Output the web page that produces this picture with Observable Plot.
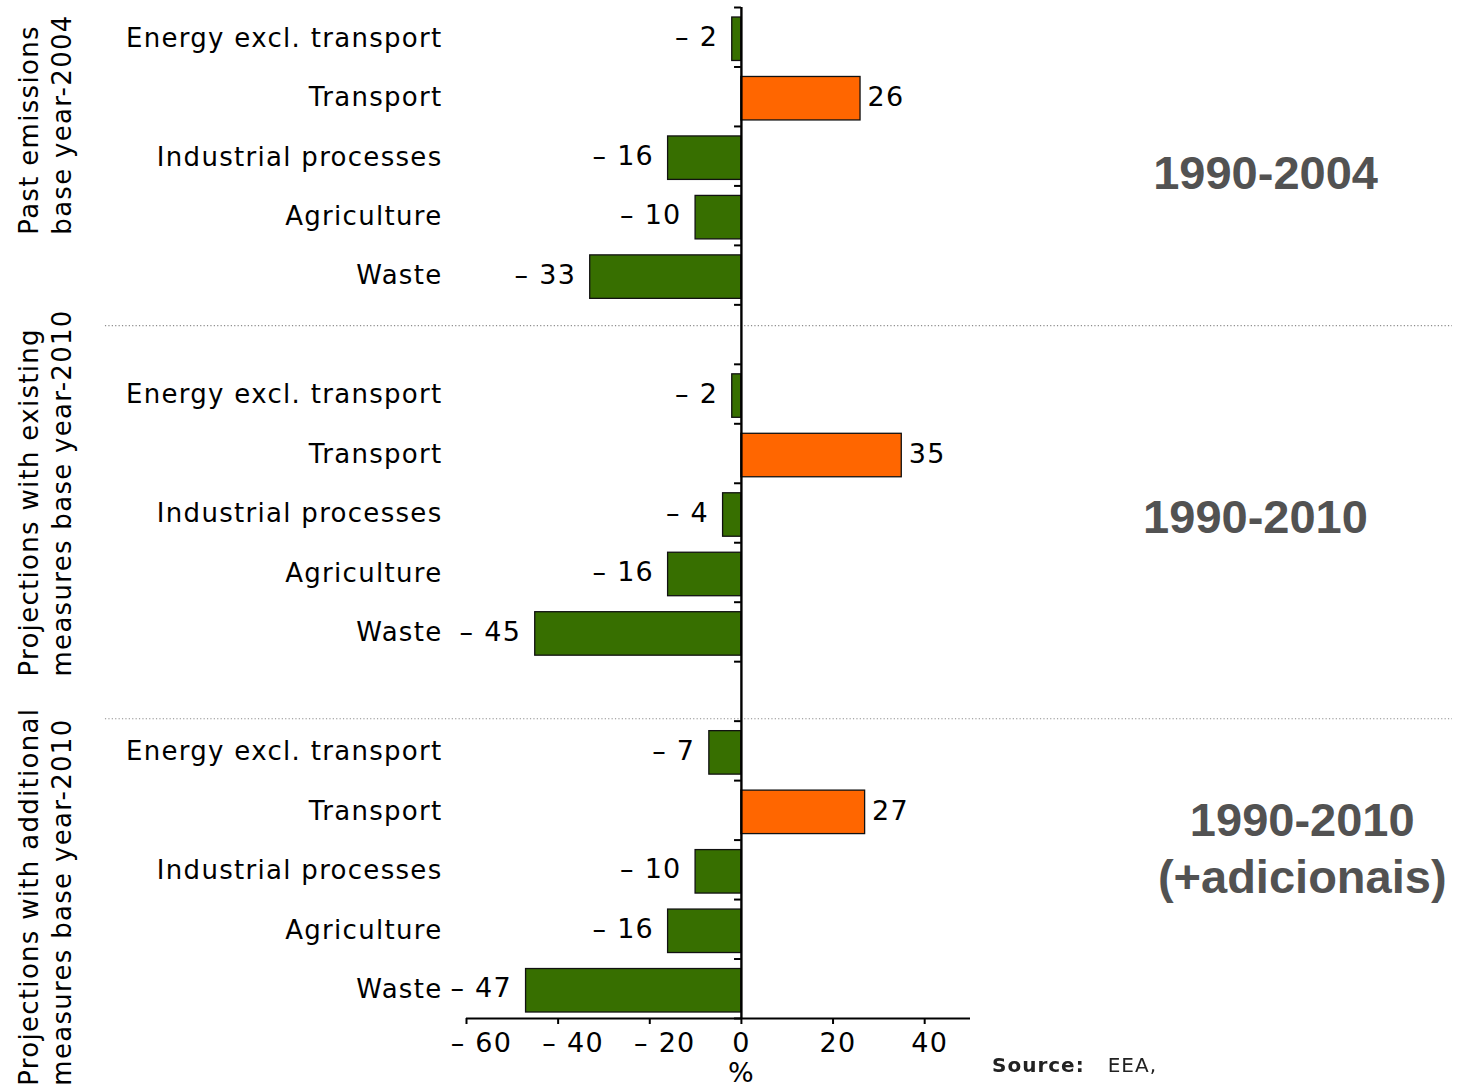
<!DOCTYPE html>
<html>
<head>
<meta charset="utf-8">
<script src="https://cdn.jsdelivr.net/npm/d3@7"></script>
<script src="https://cdn.jsdelivr.net/npm/@observablehq/plot@0.6"></script>
<style>
  html, body { margin: 0; padding: 0; background: #fff; }
  #wrap { position: relative; width: 1458px; height: 1090px; overflow: hidden; }
  #wrap svg { display: block; }
  #chart svg text { letter-spacing: 1.3px; }
  #chart svg g[font-weight="bold"] text { letter-spacing: 0; }
  #source {
    position: absolute; left: 992px; top: 1053px;
    font-family: "DejaVu Sans", Verdana, sans-serif; font-size: 20px; color: #222;
    letter-spacing: 1px; filter: blur(0.6px); white-space: nowrap;
  }
  #source b { margin-right: 23px; }
</style>
</head>
<body>
<div id="wrap">
  <div id="chart"></div>
  <div id="source"></div>
</div>
<script>
// Sectors and change in greenhouse gas emissions (%), per scenario
const sectors = ["Energy excl. transport", "Transport", "Industrial processes", "Agriculture", "Waste"];
const past2004 = [-2, 26, -16, -10, -33];
const existing2010 = [-2, 35, -4, -16, -45];
const additional2010 = [-7, 27, -10, -16, -47];

const scenarioNames = [
  ["Past emissions", "base year-2004"],
  ["Projections with existing", "measures base year-2010"],
  ["Projections with additional", "measures base year-2010"]
];
const periods = ["1990-2004", "1990-2010", "1990-2010\n(+adicionais)"];
const xTicks = [-60, -40, -20, 0, 20, 40];
const xLabel = "%";
const sourceTitle = "Source:";
const sourceName = "EEA,";

// Each scenario occupies five rows, with one empty row between scenarios
const series = [past2004, existing2010, additional2010];
const rowsPerGroup = sectors.length + 1;
const totalRows = series.length * rowsPerGroup - 1;
const rows = series.flatMap((values, g) =>
  values.map((value, i) => ({group: g, sector: sectors[i], value, row: g * rowsPerGroup + i}))
);
const rowEdges = series.flatMap((_, g) =>
  d3.range(sectors.length + 1).map((k) => g * rowsPerGroup + k)
);

// Annotation layout, in scale units (x: %, y: rows)
const separatorRows = [5.35, 11.96];
const separatorSpan = [-138.8, 155.2];
const scenarioLabelRows = [3.82, 11.25, 18.13];
const periodAt = [[114.4, 2.74], [112.2, 8.53], [122.4, 14.11]];

const green = "#376f00";
const orange = "#ff6600";
const font = "DejaVu Sans, Verdana, sans-serif";
const fmt = (v) => (v < 0 ? "\u2013 " + Math.abs(v) : String(v));
const tickShift = (v) => (v < 0 ? 15 : v > 0 ? 5 : 0);

const chart = Plot.plot({
  width: 1458,
  height: 1090,
  marginLeft: 466,
  marginRight: 488,
  marginTop: 7,
  marginBottom: 72,
  style: {fontFamily: font, background: "#fff", overflow: "visible"},
  x: {domain: [-60, 50], axis: null},
  y: {domain: [0, totalRows], reverse: true, axis: null},
  marks: [
    // dotted separators between scenarios
    Plot.ruleY(separatorRows, {
      x1: separatorSpan[0], x2: separatorSpan[1],
      stroke: "#8c8c8c", strokeWidth: 1.2, strokeDasharray: "1.2,2.2"
    }),
    // bars
    Plot.rectX(rows, {
      x1: () => 0, x2: "value",
      y1: "row", y2: (d) => d.row + 1,
      insetTop: 10, insetBottom: 6,
      fill: (d) => (d.sector === "Transport" ? orange : green),
      stroke: "#111", strokeWidth: 1.3
    }),
    // zero axis with short ticks between the rows
    Plot.ruleX([0], {stroke: "#000", strokeWidth: 2.4}),
    Plot.ruleY(rowEdges, {x1: -1.5, x2: 0, stroke: "#000", strokeWidth: 2}),
    // x axis
    Plot.ruleY([totalRows], {stroke: "#000", strokeWidth: 2.2}),
    Plot.axisX(xTicks, {tickSize: 6, strokeWidth: 2, tickFormat: () => "", label: null}),
    ...xTicks.map((t) =>
      Plot.text([t], {
        x: (d) => d, y: () => totalRows, text: fmt, dy: 25, dx: tickShift(t),
        fontSize: 27, fill: "#000", lineAnchor: "middle"
      })
    ),
    Plot.text([xLabel], {
      x: () => 0, y: () => totalRows, text: (d) => d, dy: 55,
      fontSize: 27, fill: "#000", lineAnchor: "middle"
    }),
    // sector names
    Plot.text(rows, {
      y: (d) => d.row + 0.5, text: "sector", frameAnchor: "left",
      textAnchor: "end", dx: -24, dy: 1, fontSize: 26, fill: "#000"
    }),
    // value labels
    Plot.text(rows.filter((d) => d.value < 0), {
      x: "value", y: (d) => d.row + 0.5, text: (d) => fmt(d.value),
      textAnchor: "end", dx: -14, dy: 0, fontSize: 27, fill: "#000"
    }),
    Plot.text(rows.filter((d) => d.value >= 0), {
      x: "value", y: (d) => d.row + 0.5, text: (d) => fmt(d.value),
      textAnchor: "start", dx: 7, dy: 1, fontSize: 27, fill: "#000"
    }),
    // scenario names, rotated on the left
    Plot.text(scenarioNames, {
      y: (d, i) => scenarioLabelRows[i], text: (d) => d.join("\n"),
      frameAnchor: "left", dx: -423, rotate: -90, textAnchor: "start",
      lineAnchor: "middle", lineHeight: 1.27, fontSize: 26, fill: "#000"
    }),
    // period labels on the right
    Plot.text(periods, {
      x: (d, i) => periodAt[i][0], y: (d, i) => periodAt[i][1], text: (d) => d,
      textAnchor: "middle", lineAnchor: "middle", lineHeight: 1.21,
      fontSize: 47, fontWeight: "bold", fontFamily: "Liberation Sans, Arial, sans-serif",
      fill: "#525252"
    })
  ]
});

document.getElementById("chart").append(chart);
const src = document.getElementById("source");
const b = document.createElement("b");
b.textContent = sourceTitle;
src.append(b, document.createTextNode(sourceName));
</script>
</body>
</html>
